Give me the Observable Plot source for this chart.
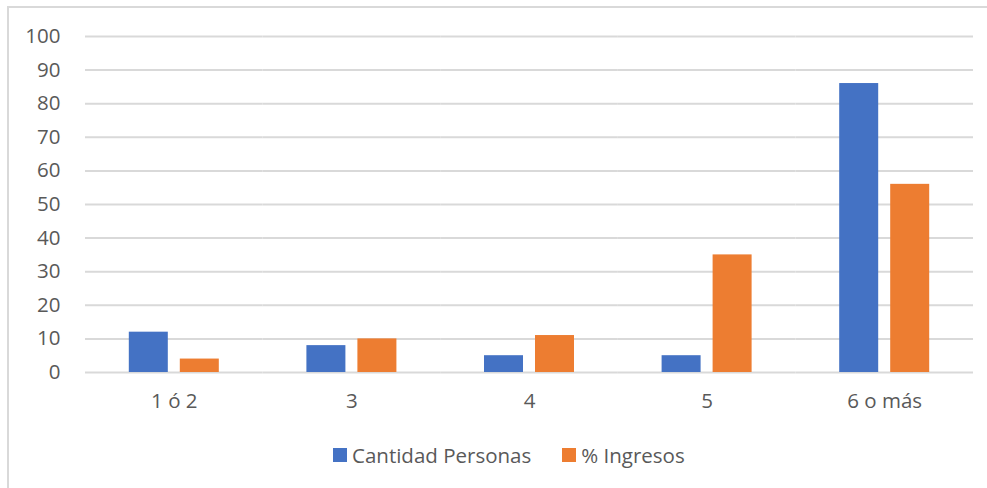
<!DOCTYPE html>
<html>
<head>
<meta charset="utf-8">
<script src="https://cdn.jsdelivr.net/npm/d3@7"></script>
<script src="https://cdn.jsdelivr.net/npm/@observablehq/plot@0.6"></script>
<style>
  html, body { margin: 0; padding: 0; background: #fff; }
  #wrap { position: relative; width: 987px; height: 488px; overflow: hidden; font-family: "Open Sans", sans-serif; color: #595959; }
  #frame { position: absolute; left: 7px; top: 6px; width: 1000px; height: 500px; border: 2px solid #d9d9d9; box-sizing: border-box; }
  #chart { position: absolute; left: 0; top: 0; }
  #legend { position: absolute; left: 333px; top: 441px; display: flex; align-items: center; font-size: 20.5px; white-space: nowrap; }
  #legend .item { display: flex; align-items: center; margin-right: 31px; }
  #legend .sw { width: 14px; height: 14px; margin-right: 5px; }
</style>
</head>
<body>
<div id="wrap">
  <div id="frame"></div>
  <div id="chart"></div>
  <div id="legend"></div>
</div>
<script>
const categories = ["1 ó 2", "3", "4", "5", "6 o más"];
const seriesNames = ["Cantidad Personas", "% Ingresos"];
const cantidadPersonas = [12, 8, 5, 5, 86];
const ingresos = [4, 10, 11, 35, 56];
const colors = ["#4472C4", "#ED7D31"];
const yTicks = [0, 10, 20, 30, 40, 50, 60, 70, 80, 90, 100];

const data = [];
categories.forEach((c, i) => {
  data.push({cat: c, serie: seriesNames[0], value: cantidadPersonas[i]});
  data.push({cat: c, serie: seriesNames[1], value: ingresos[i]});
});

const chart = Plot.plot({
  width: 987,
  height: 430,
  marginLeft: 85,
  marginRight: 14,
  marginTop: 36,
  marginBottom: 58,
  style: {fontFamily: "'Open Sans', sans-serif", fontSize: "20.5px", color: "#595959", background: "transparent"},
  fx: {domain: categories, padding: 0, round: false, label: null},
  x: {domain: seriesNames, paddingInner: 0.2353, paddingOuter: 0.8588, round: false, axis: null},
  y: {domain: [0, 100], label: null},
  color: {domain: seriesNames, range: colors},
  marks: [
    Plot.gridY(yTicks, {stroke: "#d9d9d9", strokeOpacity: 1, strokeWidth: 2}),
    Plot.axisY(yTicks, {tickSize: 0, tickPadding: 25, label: null, fill: "#595959", fontSize: 20.5}),
    Plot.axisFx({anchor: "bottom", tickSize: 0, tickPadding: 21, label: null, fill: "#595959", fontSize: 20.5}),
    Plot.barY(data, {fx: "cat", x: "serie", y: "value", fill: "serie"})
  ]
});
document.getElementById("chart").appendChild(chart);

const legend = document.getElementById("legend");
seriesNames.forEach((s, i) => {
  const item = document.createElement("div");
  item.className = "item";
  const sw = document.createElement("div");
  sw.className = "sw";
  sw.style.background = colors[i];
  const t = document.createElement("span");
  t.textContent = s;
  item.appendChild(sw);
  item.appendChild(t);
  legend.appendChild(item);
});
</script>
</body>
</html>
